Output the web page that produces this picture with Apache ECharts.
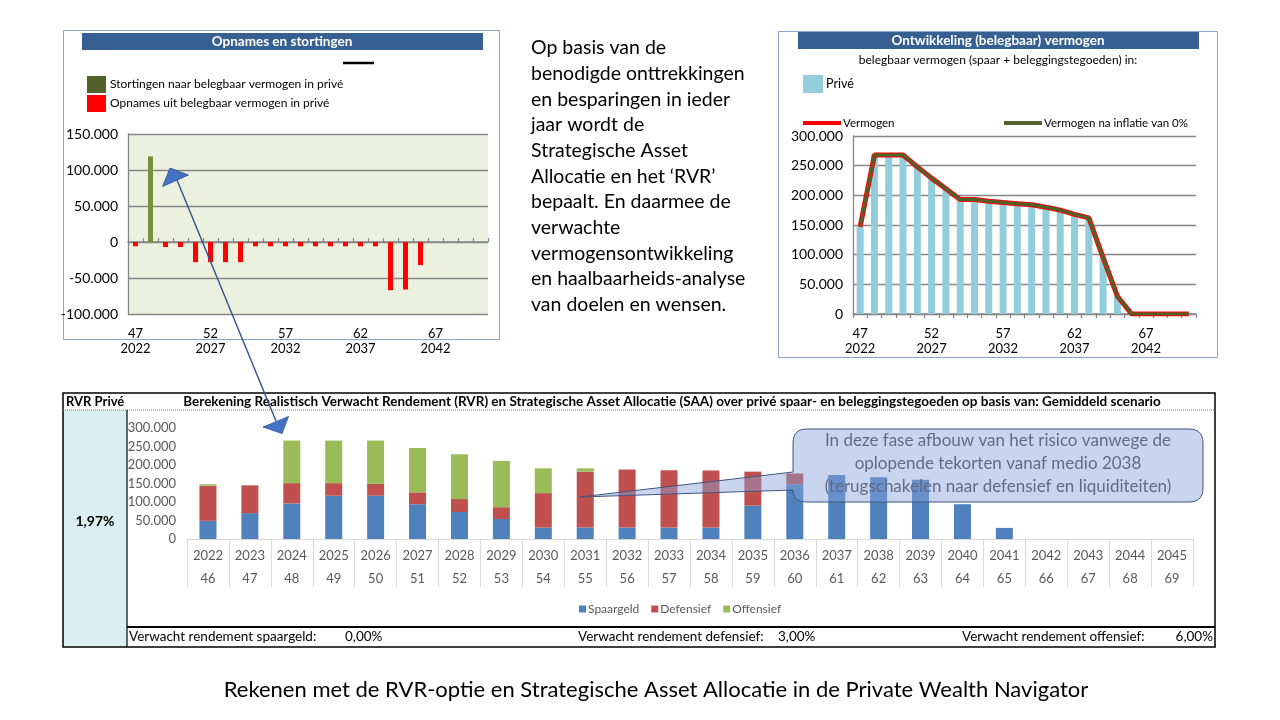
<!DOCTYPE html>
<html>
<head>
<meta charset="utf-8">
<script src="https://cdn.jsdelivr.net/npm/echarts@6/dist/echarts.min.js"></script>
<style>
html,body{margin:0;padding:0;background:#fff;}
#c{width:1280px;height:720px;}
</style>
</head>
<body>
<div id="c"></div>
<script>
// ---------- DATA ----------
const topYears = ['2022','2023','2024','2025','2026','2027','2028','2029','2030','2031','2032','2033','2034','2035','2036','2037','2038','2039','2040','2041','2042','2043','2044','2045'];
const topAges = ['47','48','49','50','51','52','53','54','55','56','57','58','59','60','61','62','63','64','65','66','67','68','69','70'];
const stortingen = [0,119000,0,0,0,0,0,0,0,0,0,0,0,0,0,0,0,0,0,0,0,0,0,0];
const opnames = [-6000,0,-7000,-7000,-28000,-28000,-28000,-28000,-6000,-6000,-6000,-6000,-6000,-6000,-6000,-6000,-6000,-67000,-66000,-32000,0,0,0,0];
const prive = [147000,268000,268000,268000,248000,229000,211000,193000,193000,190000,188000,186000,184000,180000,175000,168000,162000,95000,30000,0,0,0,0,0];
const vermogen = [147000,268000,268000,268000,248000,229000,211000,193000,193000,190000,188000,186000,184000,180000,175000,168000,162000,95000,30000,0,0,0,0,0];
const vermogenInflatie = [147000,268000,268000,268000,248000,229000,211000,193000,193000,190000,188000,186000,184000,180000,175000,168000,162000,95000,30000,0,0,0,0,0];

const rvrYears = ['2022','2023','2024','2025','2026','2027','2028','2029','2030','2031','2032','2033','2034','2035','2036','2037','2038','2039','2040','2041','2042','2043','2044','2045'];
const rvrAges = ['46','47','48','49','50','51','52','53','54','55','56','57','58','59','60','61','62','63','64','65','66','67','68','69'];
const spaargeld = [49000,70000,96000,117000,117000,94000,73000,54000,31000,31000,31000,31000,31000,90000,148000,173000,167000,160000,94000,30000,0,0,0,0];
const defensief = [95000,75000,55000,34000,32000,32000,35000,32000,93000,151000,157000,155000,154000,92000,29000,0,0,0,0,0,0,0,0,0];
const offensief = [4000,0,115000,115000,117000,120000,121000,125000,67000,9000,0,0,0,0,0,0,0,0,0,0,0,0,0,0];

// ---------- CHART ----------
const FF = 'Lato, "Open Sans", sans-serif';
const fmt = v => (v < 0 ? '-' : '') + Math.abs(v).toString().replace(/\B(?=(\d{3})+(?!\d))/g, '.');
const chart = echarts.init(document.getElementById('c'), null, {renderer: 'canvas'});

const T = (text, x, y, o) => ({
  type: 'text', z: 50,
  style: Object.assign({text: text, x: x, y: y, fill: '#000', font: '12px ' + FF, textAlign: 'left', textVerticalAlign: 'middle'}, o || {})
});

// rounded callout outline with pointer (sampled quadratic corners)
function quad(p0, c, p1, n) {
  const pts = [];
  for (let i = 1; i <= n; i++) {
    const t = i / n, u = 1 - t;
    pts.push([u * u * p0[0] + 2 * u * t * c[0] + t * t * p1[0], u * u * p0[1] + 2 * u * t * c[1] + t * t * p1[1]]);
  }
  return pts;
}
const box = {l: 793, t: 429, r: 1203, b: 502, rad: 14};
const calloutPts = [[box.l + box.rad, box.t], [box.r - box.rad, box.t]]
  .concat(quad([box.r - box.rad, box.t], [box.r, box.t], [box.r, box.t + box.rad], 8))
  .concat([[box.r, box.b - box.rad]])
  .concat(quad([box.r, box.b - box.rad], [box.r, box.b], [box.r - box.rad, box.b], 8))
  .concat([[box.l + box.rad, box.b]])
  .concat(quad([box.l + box.rad, box.b], [box.l, box.b], [box.l, box.b - 12], 8))
  .concat([[580, 497], [box.l, 472], [box.l, box.t + box.rad]])
  .concat(quad([box.l, box.t + box.rad], [box.l, box.t], [box.l + box.rad, box.t], 8));

const option = {
  animation: false,
  textStyle: {fontFamily: FF},
  grid: [
    {left: 128, top: 134, width: 360, height: 180, show: true, backgroundColor: '#EBF1DE', borderWidth: 0},
    {left: 853, top: 136, width: 343, height: 178},
    {left: 187, top: 428, width: 1006, height: 111}
  ],
  xAxis: [
    {gridIndex: 0, type: 'category', data: topYears, position: 'bottom',
      axisLine: {show: false, onZero: false}, axisTick: {show: false},
      axisLabel: {interval: 4, margin: 12, fontSize: 13, lineHeight: 15, color: '#000', fontFamily: FF,
        formatter: (v, i) => topAges[i] + '\n' + v}},
    {gridIndex: 0, type: 'category', data: topYears,
      axisLine: {onZero: true, lineStyle: {color: '#868686', width: 1.5}},
      axisTick: {show: true, interval: 0, length: 4, lineStyle: {color: '#868686', width: 1.2}},
      axisLabel: {show: false}},
    {gridIndex: 1, type: 'category', data: topYears,
      axisLine: {onZero: true, lineStyle: {color: '#868686', width: 1.5}},
      axisTick: {show: true, interval: 0, length: 4, lineStyle: {color: '#868686', width: 1.2}},
      axisLabel: {interval: 4, margin: 12, fontSize: 13, lineHeight: 15, color: '#000', fontFamily: FF,
        formatter: (v, i) => topAges[i] + '\n' + v}},
    {gridIndex: 2, type: 'category', data: rvrYears,
      axisLine: {lineStyle: {color: '#D9D9D9', width: 1}},
      axisTick: {show: true, interval: 0, length: 48, lineStyle: {color: '#D9D9D9', width: 1}},
      axisLabel: {interval: 0, margin: 5, fontSize: 13, lineHeight: 23, color: '#595959', fontFamily: FF,
        formatter: (v, i) => v + '\n' + rvrAges[i]}}
  ],
  yAxis: [
    {gridIndex: 0, type: 'value', min: -100000, max: 150000, interval: 50000,
      axisLine: {show: true, lineStyle: {color: '#868686', width: 1.3}},
      splitLine: {lineStyle: {color: '#868686', width: 1.3}},
      axisLabel: {formatter: fmt, fontSize: 14, color: '#000', margin: 10, fontFamily: FF}},
    {gridIndex: 1, type: 'value', min: 0, max: 300000, interval: 50000,
      axisLine: {show: true, lineStyle: {color: '#868686', width: 1.3}},
      splitLine: {lineStyle: {color: '#868686', width: 1.3}},
      axisLabel: {formatter: fmt, fontSize: 14, color: '#000', margin: 10, fontFamily: FF}},
    {gridIndex: 2, type: 'value', min: 0, max: 300000, interval: 50000,
      axisLine: {show: false}, splitLine: {show: false}, axisTick: {show: false},
      axisLabel: {formatter: fmt, fontSize: 13, color: '#595959', margin: 11, fontFamily: FF}}
  ],
  legend: [
    {orient: 'vertical', left: 82, top: 71, itemWidth: 19, itemHeight: 17, itemGap: 2, selectedMode: false, icon: 'rect',
      textStyle: {fontSize: 12, color: '#000', fontFamily: FF, padding: [0, 0, 0, -1]},
      data: [{name: 'Stortingen naar belegbaar vermogen in privé', itemStyle: {color: '#4F6228'}},
             {name: 'Opnames uit belegbaar vermogen in privé'}]},
    {left: 798, top: 70, itemWidth: 20, itemHeight: 18, selectedMode: false, icon: 'rect',
      textStyle: {fontSize: 12.5, color: '#000', fontFamily: FF, padding: [0, 0, 0, -2]}, data: ['Privé']},
    {left: 798, top: 112, itemWidth: 38, itemHeight: 4, selectedMode: false, icon: 'rect',
      textStyle: {fontSize: 11.5, color: '#000', fontFamily: FF, padding: [0, 0, 4, -3]}, data: ['Vermogen']},
    {left: 999, top: 112, itemWidth: 38, itemHeight: 4, selectedMode: false, icon: 'rect',
      textStyle: {fontSize: 11.5, color: '#000', fontFamily: FF, padding: [0, 0, 4, -3]}, data: ['Vermogen na inflatie van 0%']},
    {left: 574, top: 598, itemWidth: 7, itemHeight: 7, itemGap: 12, selectedMode: false, icon: 'rect',
      textStyle: {fontSize: 12, color: '#595959', fontFamily: FF, padding: [0, 0, 0, -3]},
      data: ['Spaargeld', 'Defensief', 'Offensief']}
  ],
  series: [
    {name: 'Stortingen naar belegbaar vermogen in privé', type: 'bar', xAxisIndex: 0, yAxisIndex: 0, stack: 'tl',
      barWidth: 5, data: stortingen, itemStyle: {color: '#76923C'}},
    {name: 'Opnames uit belegbaar vermogen in privé', type: 'bar', xAxisIndex: 0, yAxisIndex: 0, stack: 'tl',
      barWidth: 5, data: opnames, itemStyle: {color: '#FF0000'}},
    {name: 'Privé', type: 'bar', xAxisIndex: 2, yAxisIndex: 1, barWidth: 7, data: prive, itemStyle: {color: '#92CDDC'}},
    {name: 'Vermogen', type: 'line', xAxisIndex: 2, yAxisIndex: 1, data: vermogen, symbol: 'none',
      lineStyle: {color: '#FF0000', width: 5}, itemStyle: {color: '#FF0000'}},
    {name: 'Vermogen na inflatie van 0%', type: 'line', xAxisIndex: 2, yAxisIndex: 1, data: vermogenInflatie, symbol: 'none',
      lineStyle: {color: '#4F6228', width: 3}, itemStyle: {color: '#4F6228'}},
    {name: 'Spaargeld', type: 'bar', xAxisIndex: 3, yAxisIndex: 2, stack: 'b', barWidth: 17, data: spaargeld, itemStyle: {color: '#4F81BD'}},
    {name: 'Defensief', type: 'bar', xAxisIndex: 3, yAxisIndex: 2, stack: 'b', barWidth: 17, data: defensief, itemStyle: {color: '#C0504D'}},
    {name: 'Offensief', type: 'bar', xAxisIndex: 3, yAxisIndex: 2, stack: 'b', barWidth: 17, data: offensief, itemStyle: {color: '#9BBB59'}}
  ],
  graphic: [
    // top-left panel
    {type: 'rect', z: 0, shape: {x: 63.5, y: 30.5, width: 436, height: 309}, style: {fill: 'none', stroke: '#8EA3C8', lineWidth: 1}},
    {type: 'rect', z: 1, shape: {x: 82, y: 33, width: 401, height: 17}, style: {fill: '#366092'}},
    T('Opnames en stortingen', 282, 42, {fill: '#fff', font: 'bold 13.5px ' + FF, textAlign: 'center'}),
    {type: 'line', z: 1, shape: {x1: 343, y1: 63, x2: 374, y2: 63}, style: {stroke: '#000', lineWidth: 2.5}},
    // top-right panel
    {type: 'rect', z: 0, shape: {x: 778.5, y: 31.5, width: 439, height: 326}, style: {fill: 'none', stroke: '#8EA3C8', lineWidth: 1}},
    {type: 'rect', z: 1, shape: {x: 798, y: 32, width: 401, height: 17}, style: {fill: '#366092'}},
    T('Ontwikkeling (belegbaar) vermogen', 998, 41, {fill: '#fff', font: 'bold 13.5px ' + FF, textAlign: 'center'}),
    T('belegbaar vermogen (spaar + beleggingstegoeden) in:', 998, 60, {font: '12px ' + FF, textAlign: 'center'}),
    // middle paragraph
    T('Op basis van de\nbenodigde onttrekkingen\nen besparingen in ieder\njaar wordt de\nStrategische Asset\nAllocatie en het \u2018RVR\u2019\nbepaalt. En daarmee de\nverwachte\nvermogensontwikkeling\nen haalbaarheids-analyse\nvan doelen en wensen.',
      531, 35, {font: '19.5px ' + FF, textVerticalAlign: 'top', lineHeight: 25.7}),
    // bottom table frame
    {type: 'rect', z: 0, shape: {x: 63, y: 410, width: 64, height: 237}, style: {fill: '#DAEEF3'}},
    {type: 'rect', z: 1, shape: {x: 63, y: 393, width: 1152, height: 254}, style: {fill: 'none', stroke: '#000', lineWidth: 1.5}},
    {type: 'line', z: 1, shape: {x1: 63, y1: 410, x2: 1215, y2: 410}, style: {stroke: '#7F7F7F', lineWidth: 1, lineDash: [1, 1]}},
    {type: 'line', z: 1, shape: {x1: 127, y1: 410, x2: 127, y2: 647}, style: {stroke: '#000', lineWidth: 1.2}},
    {type: 'line', z: 1, shape: {x1: 127, y1: 627, x2: 1215, y2: 627}, style: {stroke: '#000', lineWidth: 2}},
    T('RVR Privé', 66, 402, {font: 'bold 13px ' + FF}),
    T('Berekening Realistisch Verwacht Rendement (RVR) en Strategische Asset Allocatie (SAA) over privé spaar- en beleggingstegoeden op basis van: Gemiddeld scenario',
      672, 402, {font: 'bold 13.5px ' + FF, textAlign: 'center'}),
    T('1,97%', 95, 521, {font: 'bold 14px ' + FF, textAlign: 'center'}),
    T('Verwacht rendement spaargeld:', 129, 637, {font: '13.5px ' + FF}),
    T('0,00%', 345, 637, {font: '13.5px ' + FF}),
    T('Verwacht rendement defensief:', 578, 637, {font: '13.5px ' + FF}),
    T('3,00%', 778, 637, {font: '13.5px ' + FF}),
    T('Verwacht rendement offensief:', 962, 637, {font: '13.5px ' + FF}),
    T('6,00%', 1213, 637, {font: '13.5px ' + FF, textAlign: 'right'}),
    // callout
    {type: 'polygon', z: 100, shape: {points: calloutPts},
      style: {fill: 'rgba(135,162,217,0.45)', stroke: '#3F5580', lineWidth: 1}},
    T('In deze fase afbouw van het risico vanwege de', 998, 441, {font: '17px ' + FF, fill: '#404040', textAlign: 'center'}),
    T('oplopende tekorten vanaf medio 2038', 998, 464, {font: '17px ' + FF, fill: '#404040', textAlign: 'center'}),
    T('(terugschakelen naar defensief en liquiditeiten)', 998, 487, {font: '17px ' + FF, fill: '#404040', textAlign: 'center'}),
    // arrow
    {type: 'line', z: 100, shape: {x1: 177, y1: 180, x2: 276, y2: 421}, style: {stroke: '#2F528F', lineWidth: 1.4}},
    {type: 'polygon', z: 101, shape: {points: [[170, 168], [188.5, 175], [162.5, 186.5]]}, style: {fill: '#4472C4', stroke: '#2F528F', lineWidth: 0.8}},
    {type: 'polygon', z: 101, shape: {points: [[263, 427], [288.5, 416.5], [282, 433.5]]}, style: {fill: '#4472C4', stroke: '#2F528F', lineWidth: 0.8}},
    // bottom caption
    T('Rekenen met de RVR-optie en Strategische Asset Allocatie in de Private Wealth Navigator', 656, 690, {font: '22px ' + FF, textAlign: 'center'})
  ]
};
chart.setOption(option);
</script>
</body>
</html>
